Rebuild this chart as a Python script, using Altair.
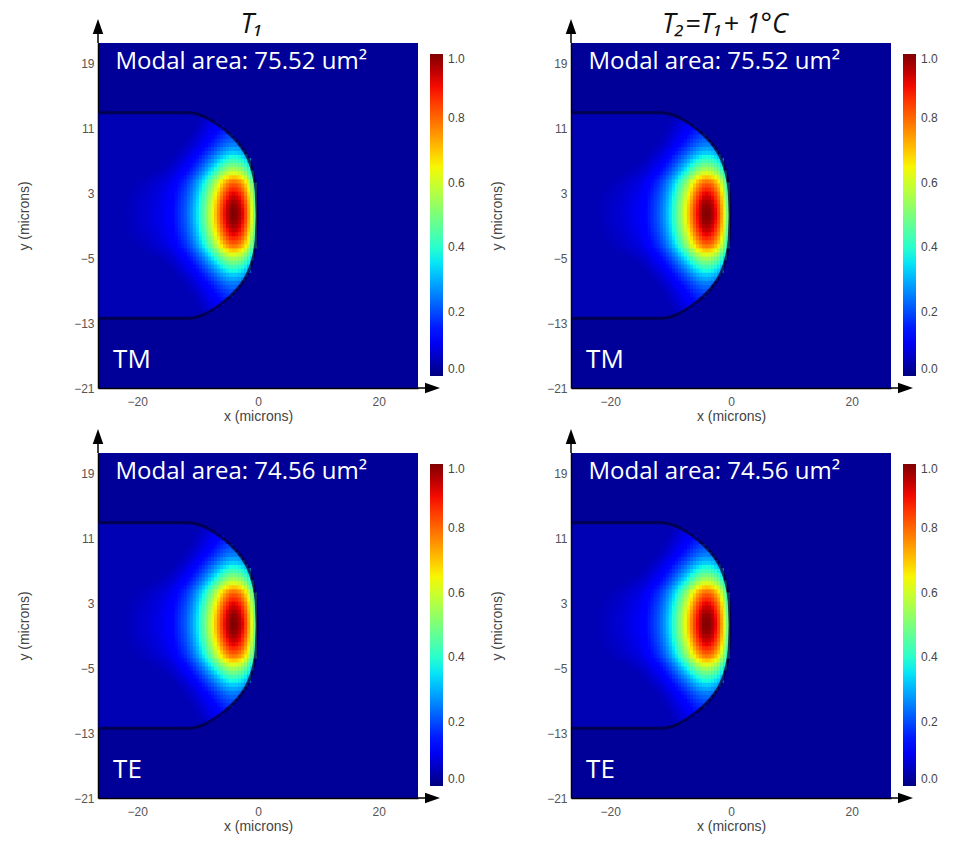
import altair as alt
import numpy as np
import pandas as pd

# ---------------- data ----------------
# field profile along x through the mode centre (y = 0.5 microns)
x_pos = [-26.5, -26, -25.5, -25, -24.5, -24, -23.5, -23, -22.5, -22,
         -21.5, -21, -20.5, -20, -19.5, -19, -18.5, -18, -17.5, -17,
         -16.5, -16, -15.5, -15, -14.5, -14, -13.5, -13, -12.5, -12,
         -11.5, -11, -10.5, -10, -9.5, -9, -8.5, -8, -7.5, -7,
         -6.5, -6, -5.5, -5, -4.5, -4, -3.5, -3, -2.5, -2,
         -1.5, -1, -0.5, 0, 0.5]
x_prof = [0.03, 0.03, 0.03, 0.035, 0.035, 0.04, 0.04, 0.045, 0.045, 0.05,
          0.05, 0.055, 0.06, 0.06, 0.065, 0.07, 0.07, 0.075, 0.08, 0.085,
          0.09, 0.095, 0.10, 0.11, 0.12, 0.13, 0.15, 0.17, 0.19, 0.21,
          0.24, 0.27, 0.31, 0.35, 0.40, 0.45, 0.51, 0.57, 0.63, 0.70,
          0.77, 0.84, 0.90, 0.95, 0.99, 1.00, 0.99, 0.96, 0.91, 0.84,
          0.74, 0.62, 0.50, 0.40, 0.30]

# field profile along y through the mode centre (x = -4 microns)
y_pos = [-13, -12.5, -12, -11.5, -11, -10.5, -10, -9.5, -9, -8.5,
         -8, -7.5, -7, -6.5, -6, -5.5, -5, -4.5, -4, -3.5,
         -3, -2.5, -2, -1.5, -1, -0.5, 0, 0.5, 1, 1.5,
         2, 2.5, 3, 3.5, 4, 4.5, 5, 5.5, 6, 6.5,
         7, 7.5, 8, 8.5, 9, 9.5, 10, 10.5, 11, 11.5,
         12, 12.5, 13, 13.5]
y_prof = [0.09, 0.10, 0.11, 0.12, 0.135, 0.15, 0.165, 0.18, 0.20, 0.225,
          0.25, 0.29, 0.33, 0.38, 0.43, 0.49, 0.55, 0.62, 0.70, 0.78,
          0.83, 0.87, 0.91, 0.94, 0.965, 0.985, 0.995, 1.0, 0.995, 0.985,
          0.965, 0.94, 0.91, 0.87, 0.83, 0.78, 0.70, 0.62, 0.55, 0.49,
          0.43, 0.38, 0.33, 0.29, 0.25, 0.225, 0.20, 0.18, 0.165, 0.15,
          0.135, 0.12, 0.11, 0.10]

# waveguide outline (right-hand rounded end), half height about its mid line
wg_x = [-26.5, -11.5, -9, -6.5, -4.5, -2.7, -1.5, -0.8, -0.3, -0.15]
wg_half = [12.65, 12.65, 12.2, 11.1, 9.9, 8.4, 6.8, 5.2, 3.0, 0.0]
wg_mid = 0.25

titles = ["T\u2081", "T\u2082=T\u2081+ 1\u00b0C", "", ""]
area_labels = ["Modal area: 75.52 um\u00b2", "Modal area: 75.52 um\u00b2",
               "Modal area: 74.56 um\u00b2", "Modal area: 74.56 um\u00b2"]
mode_labels = ["TM", "TM", "TE", "TE"]

x_ticks = [-20, 0, 20]
y_ticks = [19, 11, 3, -5, -13, -21]
cbar_ticks = [0.0, 0.2, 0.4, 0.6, 0.8, 1.0]

jet_stops = [0, 0.11, 0.125, 0.34, 0.375, 0.64, 0.66, 0.89, 0.91, 1.0]
jet_colors = ["#000080", "#0000ff", "#0000ff", "#00dbff", "#15ffe2",
              "#eeff08", "#ffec00", "#ff1300", "#e80000", "#800000"]

# ---------------- tables ----------------
rows = []
for xi, fx in zip(x_pos, x_prof):
    lim = float(np.interp(xi, wg_x, wg_half)) if xi <= wg_x[-1] else -1.0
    for yi, fy in zip(y_pos, y_prof):
        v = fx * fy
        if abs(yi - wg_mid) <= lim and v >= 0.045:
            rows.append(dict(x1=xi - 0.3, x2=xi + 0.3, y1=yi - 0.3, y2=yi + 0.3, v=round(v, 4)))
cells = pd.DataFrame(rows)

wg = pd.DataFrame({"x": wg_x,
                   "top": [wg_mid + h for h in wg_half],
                   "bot": [wg_mid - h for h in wg_half]})
one = pd.DataFrame({"k": [0]})

W, H = 320, 345
xs = alt.Scale(domain=[-26.5, 26.5], nice=False, zero=False)
ys = alt.Scale(domain=[-21, 21.5], nice=False, zero=False)
jet = alt.Scale(domain=jet_stops, range=jet_colors, interpolate="rgb")

xax = alt.Axis(values=x_ticks, title="x (microns)", ticks=False, grid=False,
               labelPadding=8, titlePadding=2, domainColor="black", domainWidth=1.5,
               labelFontSize=12, labelColor="#555", labelFont="Liberation Sans",
               titleFontSize=14, titleColor="#444", titleFont="Liberation Sans",
               titleFontWeight="normal")
yax = alt.Axis(values=y_ticks, title="y (microns)", ticks=False, grid=False,
               labelPadding=4, titlePadding=42, domainColor="black", domainWidth=1.5,
               labelFontSize=12, labelColor="#555", labelFont="Liberation Sans",
               titleFontSize=14, titleColor="#444", titleFont="Liberation Sans",
               titleFontWeight="normal")
leg = alt.Legend(orient="none", legendX=W + 12, legendY=11, direction="vertical",
                 gradientLength=322, gradientThickness=13, title=None,
                 values=cbar_ticks, format=".1f", labelFontSize=12,
                 labelColor="#444", labelFont="Liberation Sans", labelOffset=5,
                 gradientStrokeWidth=0)


def panel(i):
    interior = alt.Chart(wg).mark_area(color="#0000B4", interpolate="monotone", clip=True).encode(
        x=alt.X("x:Q", scale=xs, axis=xax),
        y=alt.Y("top:Q", scale=ys, axis=yax),
        y2="bot:Q",
    )
    heat = alt.Chart(cells).mark_rect(clip=True).encode(
        x=alt.X("x1:Q", scale=xs, axis=xax),
        x2="x2:Q",
        y=alt.Y("y1:Q", scale=ys, axis=yax),
        y2="y2:Q",
        color=alt.Color("v:Q", scale=jet, legend=leg),
    )
    outline = alt.Chart(wg).mark_area(fillOpacity=0, stroke="#000036", strokeWidth=3,
                                      strokeOpacity=0.75, interpolate="monotone", clip=True).encode(
        x=alt.X("x:Q", scale=xs, axis=xax),
        y=alt.Y("top:Q", scale=ys, axis=yax),
        y2="bot:Q",
    )
    t1 = alt.Chart(pd.DataFrame({"x": [-23.6], "y": [19.2], "t": [area_labels[i]]})).mark_text(
        align="left", baseline="middle", color="white", font="Open Sans", fontSize=24).encode(
        x=alt.X("x:Q", scale=xs, axis=xax), y=alt.Y("y:Q", scale=ys, axis=yax), text="t:N")
    t2 = alt.Chart(pd.DataFrame({"x": [-24.0], "y": [-17.5], "t": [mode_labels[i]]})).mark_text(
        align="left", baseline="middle", color="white", font="Open Sans", fontSize=26).encode(
        x=alt.X("x:Q", scale=xs, axis=xax), y=alt.Y("y:Q", scale=ys, axis=yax), text="t:N")
    yline = alt.Chart(one).mark_rule(color="black", strokeWidth=1.5).encode(
        x=alt.value(0), y=alt.value(0), y2=alt.value(-12))
    yhead = alt.Chart(one).mark_point(shape="M0,-1L0.7,1L-0.7,1Z", filled=True, color="black",
                                      size=225, opacity=1).encode(x=alt.value(0), y=alt.value(-16.5))
    xline = alt.Chart(one).mark_rule(color="black", strokeWidth=1.5).encode(
        x=alt.value(W), x2=alt.value(W + 10), y=alt.value(H))
    xhead = alt.Chart(one).mark_point(shape="M1,0L-1,-0.7L-1,0.7Z", filled=True, color="black",
                                      size=225, opacity=1).encode(x=alt.value(W + 14.5), y=alt.value(H))
    layers = [interior, heat, outline, t1, t2, yline, yhead, xline, xhead]
    if titles[i]:
        ttl = alt.Chart(pd.DataFrame({"t": [titles[i]]})).mark_text(
            align="center", baseline="middle", font="Open Sans", fontSize=27,
            fontStyle="italic", color="#111").encode(
            x=alt.value(W / 2 - 6), y=alt.value(-18), text="t:N")
        layers.append(ttl)
    return alt.layer(*layers).properties(width=W, height=H)


chart = alt.concat(panel(0), panel(1), panel(2), panel(3), columns=2,
                   spacing={"row": 65, "column": 153}, bounds="flush").resolve_scale(
    color="independent"
).properties(
    padding={"left": 17, "top": 11, "right": 5, "bottom": 5}
).configure(background="white").configure_view(fill="#000098", stroke=None)

chart.save("out.html", embed_options={"renderer": "svg", "actions": False})
